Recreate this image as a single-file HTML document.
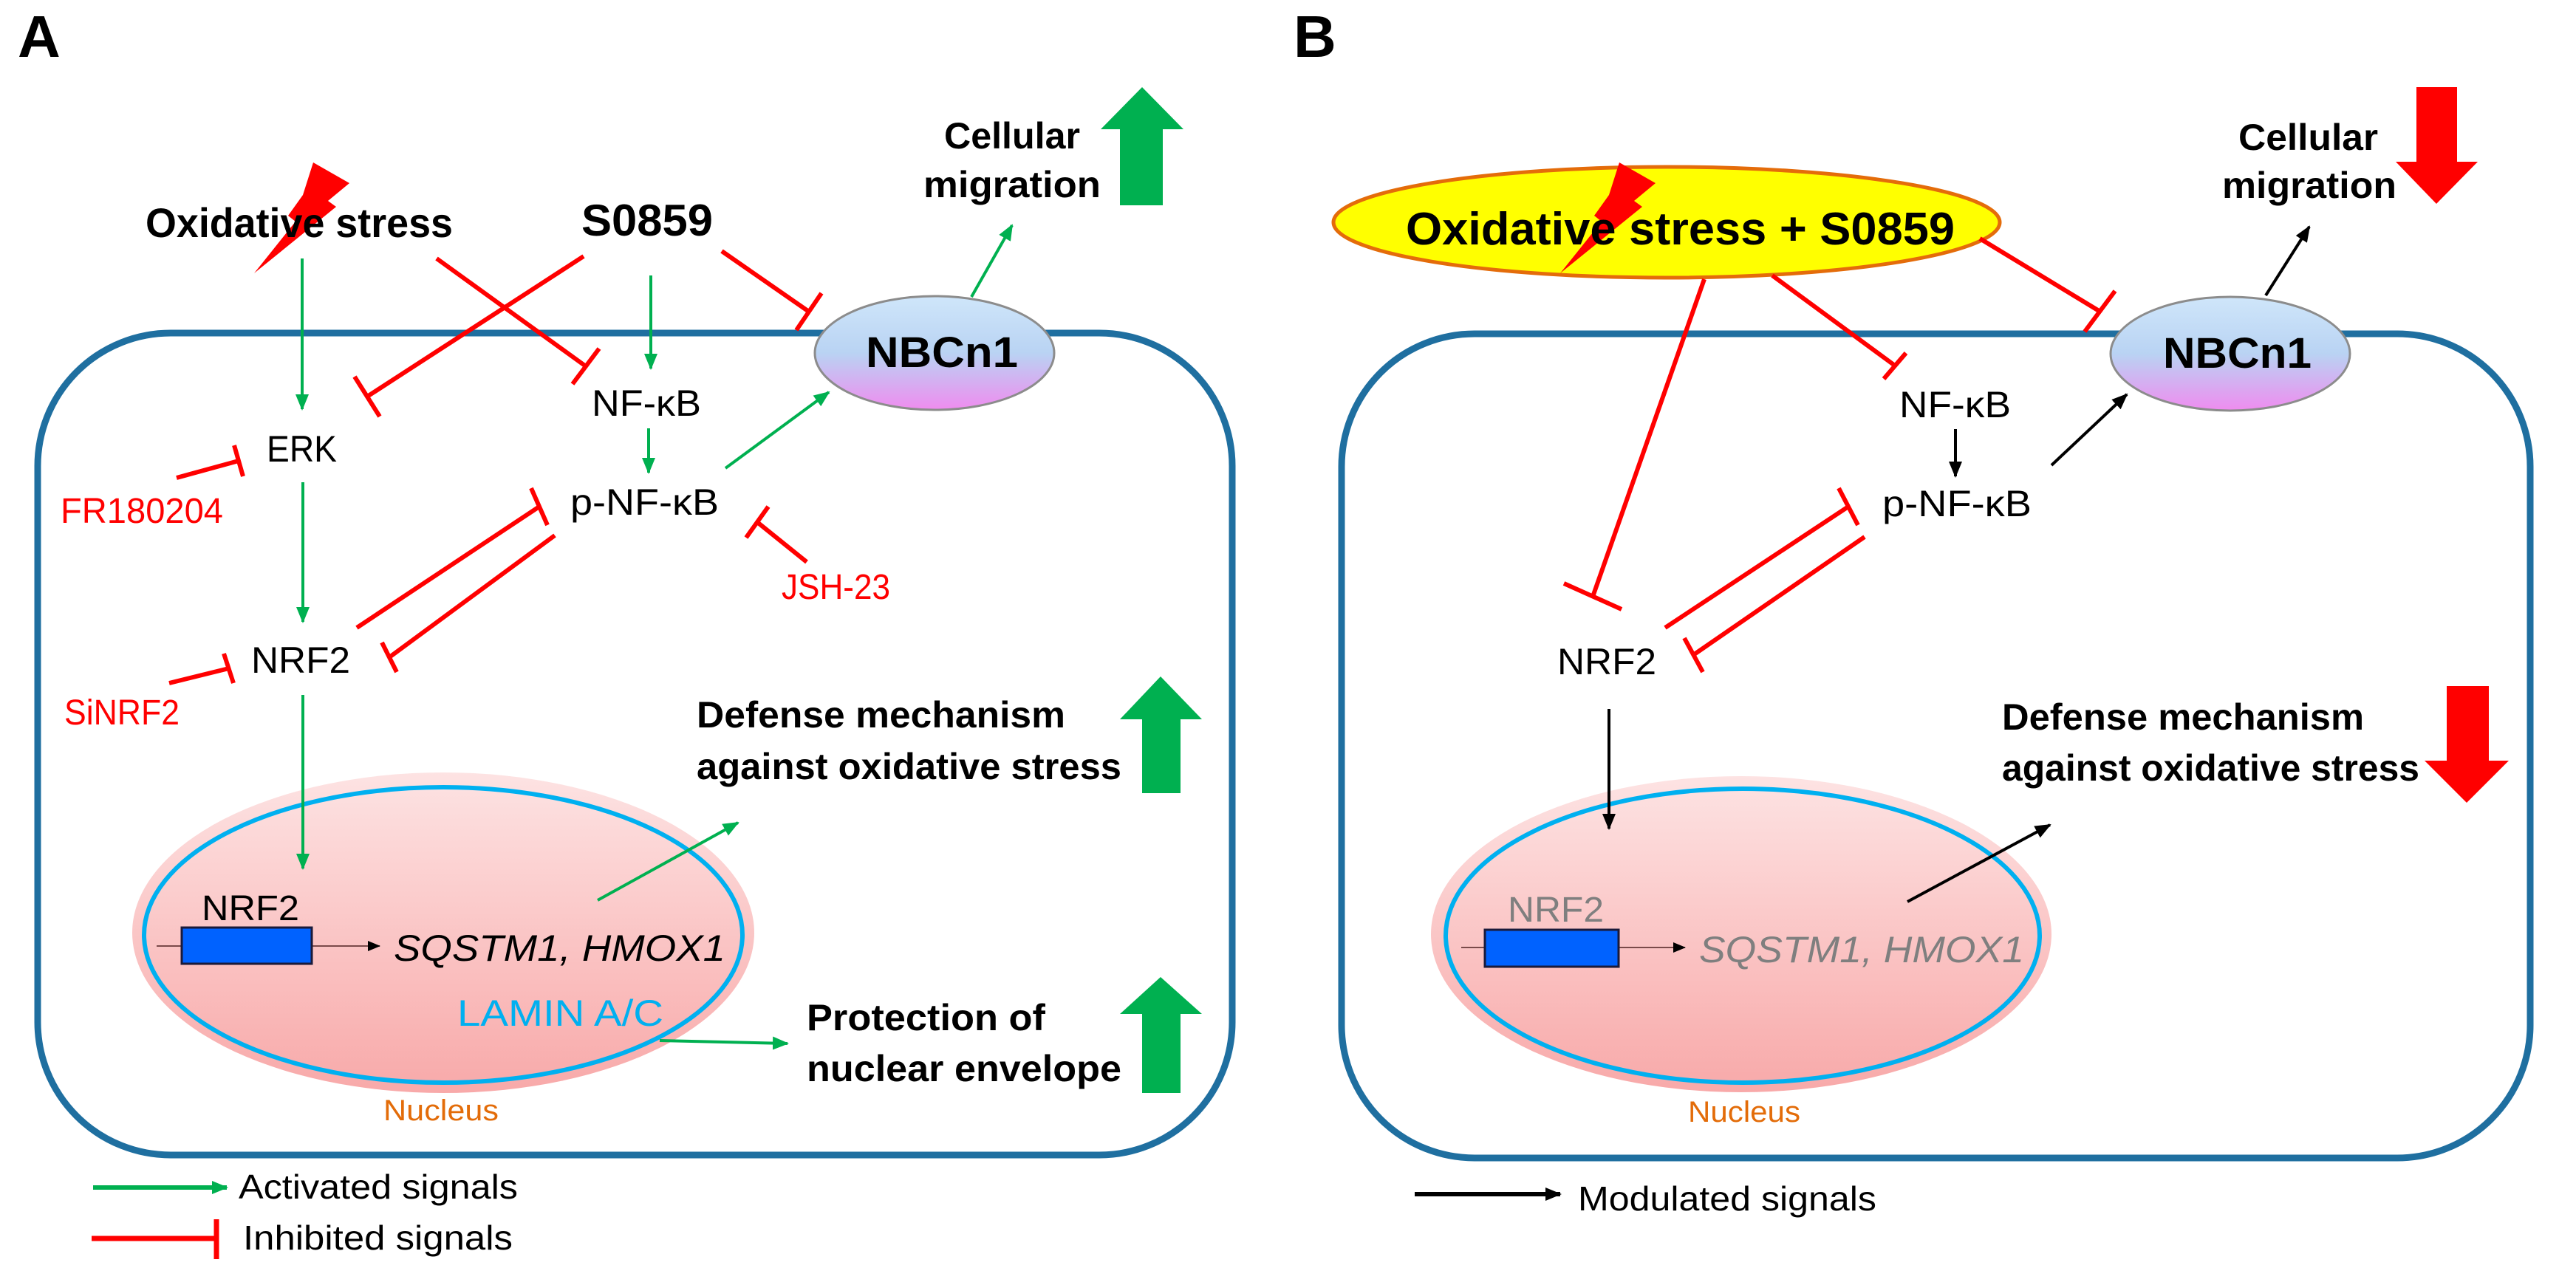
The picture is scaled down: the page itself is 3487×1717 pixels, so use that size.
<!DOCTYPE html>
<html><head><meta charset="utf-8"><style>
html,body{margin:0;padding:0;background:#fff;}
svg{display:block;}
text{font-family:"Liberation Sans",sans-serif;}
.b{font-weight:bold;}
</style></head><body>
<svg width="3487" height="1717" viewBox="0 0 3487 1717" xmlns="http://www.w3.org/2000/svg">
<defs>
<marker id="g" markerUnits="userSpaceOnUse" markerWidth="24" markerHeight="22" refX="20" refY="11" orient="auto"><path d="M0,2 L22,11 L0,20 Z" fill="#00b050"/></marker>
<marker id="k" markerUnits="userSpaceOnUse" markerWidth="24" markerHeight="22" refX="20" refY="11" orient="auto"><path d="M0,2 L22,11 L0,20 Z" fill="#000"/></marker>
<marker id="ks" markerUnits="userSpaceOnUse" markerWidth="18" markerHeight="16" refX="16" refY="8" orient="auto"><path d="M0,1 L17,8 L0,15 Z" fill="#000"/></marker>
<linearGradient id="nb" x1="0" y1="0" x2="0" y2="1"><stop offset="0" stop-color="#cfe6fa"/><stop offset="0.5" stop-color="#b9d3f3"/><stop offset="1" stop-color="#ef8cef"/></linearGradient>
<linearGradient id="nu" x1="0" y1="0" x2="0" y2="1"><stop offset="0" stop-color="#fde3e3"/><stop offset="1" stop-color="#f8a9a9"/></linearGradient>
</defs>

<!-- ============ PANEL A ============ -->
<text x="24" y="77" class="b" font-size="80">A</text>
<rect x="51" y="451" width="1617" height="1113" rx="180" ry="180" fill="none" stroke="#1f6fa0" stroke-width="9"/>

<!-- nucleus A -->
<ellipse cx="600" cy="1263" rx="421" ry="217" fill="url(#nu)"/>
<ellipse cx="600" cy="1266" rx="405" ry="200" fill="none" stroke="#00b0f0" stroke-width="6"/>
<line x1="212" y1="1281" x2="514" y2="1281" stroke="#7a4a4a" stroke-width="2" marker-end="url(#ks)"/>
<rect x="246" y="1256" width="176" height="49" fill="#0062ff" stroke="#1a1a3a" stroke-width="3"/>
<text x="273" y="1246" font-size="48" textLength="132" lengthAdjust="spacingAndGlyphs">NRF2</text>
<text x="533" y="1301" font-size="50" font-style="italic" textLength="449" lengthAdjust="spacingAndGlyphs">SQSTM1, HMOX1</text>
<text x="619" y="1389" font-size="50" fill="#00b0f0" textLength="279" lengthAdjust="spacingAndGlyphs">LAMIN A/C</text>
<text x="519" y="1517" font-size="40" fill="#e36c09" textLength="156" lengthAdjust="spacingAndGlyphs">Nucleus</text>

<!-- lightning A -->
<polygon points="424,220 473,248 444,272 455,280 344,370 400,300 390,292 410,264" fill="#ff0000"/>
<text x="197" y="321" class="b" font-size="56" textLength="416" lengthAdjust="spacingAndGlyphs">Oxidative stress</text>
<text x="787" y="319" class="b" font-size="60" textLength="178" lengthAdjust="spacingAndGlyphs">S0859</text>
<text x="1278" y="201" class="b" font-size="50" textLength="184" lengthAdjust="spacingAndGlyphs">Cellular</text>
<text x="1250" y="267" class="b" font-size="50" textLength="240" lengthAdjust="spacingAndGlyphs">migration</text>

<!-- NBCn1 A -->
<ellipse cx="1265" cy="478" rx="162" ry="77" fill="url(#nb)" stroke="#8c8c8c" stroke-width="3"/>
<text x="1172" y="497" class="b" font-size="58" textLength="206" lengthAdjust="spacingAndGlyphs">NBCn1</text>

<text x="801" y="563" font-size="50" textLength="148" lengthAdjust="spacingAndGlyphs">NF-κB</text>
<text x="772" y="697" font-size="50" textLength="201" lengthAdjust="spacingAndGlyphs">p-NF-κB</text>
<text x="361" y="625" font-size="50" textLength="95" lengthAdjust="spacingAndGlyphs">ERK</text>
<text x="82" y="708" font-size="48" fill="#ff0000" textLength="220" lengthAdjust="spacingAndGlyphs">FR180204</text>
<text x="1058" y="811" font-size="48" fill="#ff0000" textLength="147" lengthAdjust="spacingAndGlyphs">JSH-23</text>
<text x="340" y="911" font-size="50" textLength="134" lengthAdjust="spacingAndGlyphs">NRF2</text>
<text x="87" y="981" font-size="48" fill="#ff0000" textLength="156" lengthAdjust="spacingAndGlyphs">SiNRF2</text>

<text x="943" y="985" class="b" font-size="50" textLength="499" lengthAdjust="spacingAndGlyphs">Defense mechanism</text>
<text x="943" y="1055" class="b" font-size="50" textLength="575" lengthAdjust="spacingAndGlyphs">against oxidative stress</text>
<text x="1092" y="1395" class="b" font-size="50" textLength="323" lengthAdjust="spacingAndGlyphs">Protection of</text>
<text x="1092" y="1464" class="b" font-size="50" textLength="426" lengthAdjust="spacingAndGlyphs">nuclear envelope</text>

<!-- green arrows A -->
<g stroke="#00b050" stroke-width="4" fill="none">
<line x1="409" y1="350" x2="409" y2="554" marker-end="url(#g)"/>
<line x1="881" y1="373" x2="881" y2="499" marker-end="url(#g)"/>
<line x1="878" y1="580" x2="878" y2="640" marker-end="url(#g)"/>
<line x1="982" y1="634" x2="1122" y2="531" marker-end="url(#g)"/>
<line x1="1315" y1="402" x2="1370" y2="305" marker-end="url(#g)"/>
<line x1="410" y1="653" x2="410" y2="842" marker-end="url(#g)"/>
<line x1="410" y1="941" x2="410" y2="1176" marker-end="url(#g)"/>
<line x1="809" y1="1219" x2="999" y2="1114" marker-end="url(#g)"/>
<line x1="893" y1="1409" x2="1066" y2="1413" marker-end="url(#g)"/>
<line x1="126" y1="1608" x2="307" y2="1608" stroke-width="6" marker-end="url(#g)"/>
</g>

<!-- red inhibitions A -->
<g stroke="#ff0000" stroke-width="6" fill="none">
<line x1="790" y1="347" x2="497" y2="537"/><line x1="480" y1="510" x2="514" y2="564"/>
<line x1="591" y1="350" x2="793" y2="496"/><line x1="775" y1="520" x2="811" y2="472"/>
<line x1="977" y1="340" x2="1095" y2="422"/><line x1="1078" y1="447" x2="1112" y2="397"/>
<line x1="239" y1="647" x2="323" y2="624"/><line x1="317" y1="603" x2="329" y2="645"/>
<line x1="1092" y1="761" x2="1025" y2="707"/><line x1="1010" y1="728" x2="1040" y2="686"/>
<line x1="483" y1="850" x2="730" y2="686"/><line x1="719" y1="661" x2="741" y2="711"/>
<line x1="751" y1="725" x2="527" y2="890"/><line x1="517" y1="870" x2="537" y2="910"/>
<line x1="229" y1="925" x2="310" y2="905"/><line x1="303" y1="885" x2="316" y2="925"/>
<line x1="124" y1="1677" x2="293" y2="1677" stroke-width="7"/><line x1="293" y1="1651" x2="293" y2="1705" stroke-width="7"/>
</g>
<text x="323" y="1623" font-size="46" textLength="378" lengthAdjust="spacingAndGlyphs">Activated signals</text>
<text x="329" y="1692" font-size="46" textLength="365" lengthAdjust="spacingAndGlyphs">Inhibited signals</text>

<!-- big green arrows -->
<g fill="#00b050">
<polygon points="1546,118 1602,175 1574,175 1574,278 1516,278 1516,175 1490,175"/>
<polygon points="1571,916 1627,974 1598,974 1598,1074 1546,1074 1546,974 1516,974"/>
<polygon points="1571,1323 1627,1373 1598,1373 1598,1480 1546,1480 1546,1373 1516,1373"/>
</g>

<!-- ============ PANEL B ============ -->
<text x="1751" y="77" class="b" font-size="80">B</text>
<rect x="1816" y="452" width="1609" height="1116" rx="180" ry="180" fill="none" stroke="#1f6fa0" stroke-width="9"/>

<ellipse cx="2357" cy="1265" rx="420" ry="214" fill="url(#nu)"/>
<ellipse cx="2359" cy="1267" rx="402" ry="199" fill="none" stroke="#00b0f0" stroke-width="6"/>
<line x1="1978" y1="1283" x2="2281" y2="1283" stroke="#7a4a4a" stroke-width="2" marker-end="url(#ks)"/>
<rect x="2010" y="1259" width="181" height="50" fill="#0062ff" stroke="#1a1a3a" stroke-width="3"/>
<text x="2041" y="1248" font-size="48" fill="#7f7f7f" textLength="130" lengthAdjust="spacingAndGlyphs">NRF2</text>
<text x="2300" y="1303" font-size="50" font-style="italic" fill="#7f7f7f" textLength="440" lengthAdjust="spacingAndGlyphs">SQSTM1, HMOX1</text>
<text x="2285" y="1519" font-size="40" fill="#e36c09" textLength="152" lengthAdjust="spacingAndGlyphs">Nucleus</text>

<!-- yellow ellipse -->
<ellipse cx="2256" cy="301" rx="451" ry="75" fill="#ffff00" stroke="#e46c0a" stroke-width="5"/>
<polygon points="2192,220 2241,248 2212,272 2223,280 2112,370 2168,300 2158,292 2178,264" fill="#ff0000"/>
<text x="1903" y="331" class="b" font-size="62" textLength="743" lengthAdjust="spacingAndGlyphs">Oxidative stress + S0859</text>

<text x="3030" y="203" class="b" font-size="50" textLength="189" lengthAdjust="spacingAndGlyphs">Cellular</text>
<text x="3008" y="268" class="b" font-size="50" textLength="236" lengthAdjust="spacingAndGlyphs">migration</text>

<ellipse cx="3019" cy="479" rx="162" ry="77" fill="url(#nb)" stroke="#8c8c8c" stroke-width="3"/>
<text x="2928" y="498" class="b" font-size="58" textLength="201" lengthAdjust="spacingAndGlyphs">NBCn1</text>

<text x="2571" y="565" font-size="50" textLength="151" lengthAdjust="spacingAndGlyphs">NF-κB</text>
<text x="2548" y="699" font-size="50" textLength="202" lengthAdjust="spacingAndGlyphs">p-NF-κB</text>
<text x="2108" y="913" font-size="50" textLength="134" lengthAdjust="spacingAndGlyphs">NRF2</text>

<text x="2710" y="988" class="b" font-size="50" textLength="490" lengthAdjust="spacingAndGlyphs">Defense mechanism</text>
<text x="2710" y="1057" class="b" font-size="50" textLength="565" lengthAdjust="spacingAndGlyphs">against oxidative stress</text>

<g stroke="#000" stroke-width="4" fill="none">
<line x1="3067" y1="400" x2="3126" y2="307" marker-end="url(#k)"/>
<line x1="2647" y1="581" x2="2647" y2="645" marker-end="url(#k)"/>
<line x1="2777" y1="630" x2="2879" y2="534" marker-end="url(#k)"/>
<line x1="2178" y1="960" x2="2178" y2="1122" marker-end="url(#k)"/>
<line x1="2582" y1="1221" x2="2775" y2="1117" marker-end="url(#k)"/>
<line x1="1915" y1="1617" x2="2112" y2="1617" stroke-width="6" marker-end="url(#k)"/>
</g>
<text x="2136" y="1639" font-size="46" textLength="404" lengthAdjust="spacingAndGlyphs">Modulated signals</text>

<g stroke="#ff0000" stroke-width="6" fill="none">
<line x1="2680" y1="323" x2="2843" y2="422"/><line x1="2822" y1="449" x2="2863" y2="394"/>
<line x1="2399" y1="373" x2="2565" y2="495"/><line x1="2550" y1="513" x2="2580" y2="478"/>
<line x1="2307" y1="378" x2="2156" y2="808"/><line x1="2117" y1="790" x2="2195" y2="825"/>
<line x1="2254" y1="850" x2="2502" y2="686"/><line x1="2489" y1="661" x2="2515" y2="711"/>
<line x1="2524" y1="727" x2="2292" y2="887"/><line x1="2280" y1="864" x2="2305" y2="910"/>
</g>

<g fill="#ff0000">
<polygon points="3271,118 3326,118 3326,219 3354,219 3298,276 3243,219 3271,219"/>
<polygon points="3312,929 3369,929 3369,1030 3396,1030 3339,1087 3282,1030 3312,1030"/>
</g>
</svg>
</body></html>
